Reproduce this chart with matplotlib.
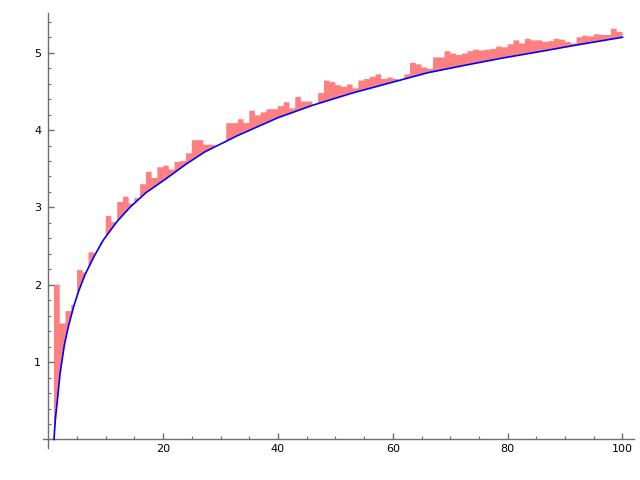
import numpy as np
import matplotlib
matplotlib.use("Agg")
import matplotlib.pyplot as plt
from matplotlib.ticker import MultipleLocator

# bar heights, one per unit interval [n, n+1], n = 1..99
bar_start = list(range(1, 100))
bar_vals = [
    2.00, 1.50, 1.66, 1.74, 2.19, 2.16, 2.42, 2.37, 2.55, 2.89,
    2.81, 3.07, 3.14, 3.05, 3.12, 3.30, 3.46, 3.38, 3.52, 3.54,
    3.49, 3.59, 3.60, 3.70, 3.87, 3.87, 3.81, 3.81, 3.80, 3.82,
    4.09, 4.09, 4.14, 4.09, 4.25, 4.19, 4.23, 4.27, 4.27, 4.31,
    4.36, 4.28, 4.43, 4.37, 4.37, 4.33, 4.48, 4.64, 4.62, 4.58,
    4.56, 4.59, 4.54, 4.64, 4.66, 4.69, 4.72, 4.66, 4.68, 4.66,
    4.64, 4.72, 4.87, 4.85, 4.81, 4.79, 4.94, 4.94, 5.02, 4.99,
    4.97, 4.99, 5.02, 5.04, 5.03, 5.04, 5.05, 5.08, 5.07, 5.11,
    5.16, 5.12, 5.18, 5.16, 5.16, 5.14, 5.15, 5.18, 5.17, 5.14,
    5.12, 5.20, 5.22, 5.21, 5.24, 5.23, 5.23, 5.31, 5.27,
]

# smooth reference curve
curve_x = [1, 1.1, 1.25, 1.58, 2.05, 2.8, 3.5, 4.43, 5.3, 6.4, 8, 9.6, 12, 14.2,
           17, 20.3, 24, 27.3, 33, 40, 46, 53, 60, 66, 72, 79, 86, 92, 100]
curve_y = [0, 0.12, 0.27, 0.50, 0.85, 1.22, 1.46, 1.72, 1.92, 2.13, 2.37, 2.58, 2.82, 3.00,
           3.19, 3.36, 3.56, 3.72, 3.93, 4.16, 4.32, 4.48, 4.62, 4.74, 4.83, 4.93, 5.02, 5.10, 5.20]

fig = plt.figure(figsize=(6.4, 4.8), dpi=100)
ax = fig.add_axes([0.0677, 0.0667, 0.9229, 0.9056])

# red area between the step heights and the curve (only where the step is above)
xs = np.linspace(bar_start[0], bar_start[-1] + 1, 6000)
idx = np.clip(np.floor(xs).astype(int) - bar_start[0], 0, len(bar_vals) - 1)
step = np.array(bar_vals)[idx]
under = np.interp(xs, curve_x, curve_y)
ax.fill_between(xs, under, step, where=step >= under, interpolate=True,
                color="#ff8080", linewidth=0)
ax.plot(curve_x, curve_y, color="#0000ff", linewidth=1.2, zorder=3)

ax.set_xlim(-0.86, 102.0)
ax.set_ylim(-0.11, 5.51)

for side in ["top", "right"]:
    ax.spines[side].set_visible(False)
for side in ["left", "bottom"]:
    ax.spines[side].set_position(("data", 0))
    ax.spines[side].set_color("#6e6e6e")
    ax.spines[side].set_linewidth(1.0)

ax.xaxis.set_major_locator(MultipleLocator(20))
ax.xaxis.set_minor_locator(MultipleLocator(5))
ax.yaxis.set_major_locator(MultipleLocator(1))
ax.yaxis.set_minor_locator(MultipleLocator(0.2))

ax.set_xticks([20, 40, 60, 80, 100])
ax.set_yticks([1, 2, 3, 4, 5])
ax.tick_params(which="both", direction="in", colors="#6e6e6e", labelcolor="black", labelsize=8)
ax.tick_params(which="major", length=4, width=1)
ax.tick_params(which="minor", length=2.5, width=0.8)
ax.tick_params(axis="y", pad=5)

fig.savefig("out.png", dpi=100)
